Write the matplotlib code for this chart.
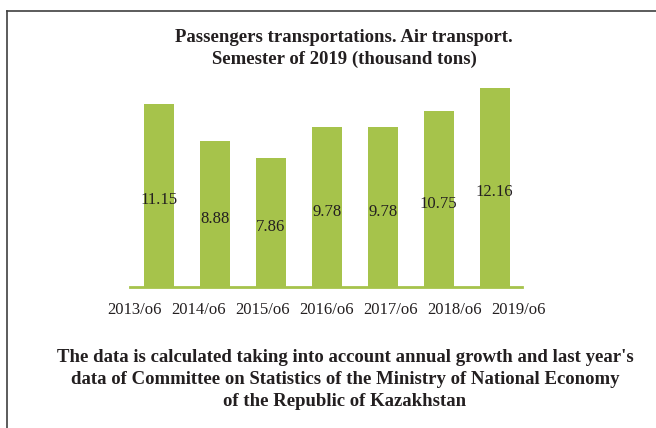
import matplotlib
matplotlib.use("Agg")
import matplotlib.pyplot as plt
from matplotlib.lines import Line2D

categories = ["2013/o6", "2014/o6", "2015/o6", "2016/o6", "2017/o6", "2018/o6", "2019/o6"]
values = [11.15, 8.88, 7.86, 9.78, 9.78, 10.75, 12.16]
value_labels = ["11.15", "8.88", "7.86", "9.78", "9.78", "10.75", "12.16"]

title = "Passengers transportations. Air transport.\nSemester of 2019 (thousand tons)"
footer = ("The data is calculated taking into account annual growth and last year's\n"
          "data of Committee on Statistics of the Ministry of National Economy\n"
          "of the Republic of Kazakhstan")

W, H = 656, 428
fig = plt.figure(figsize=(W / 100, H / 100), dpi=100)
fig.patch.set_facecolor("white")

green = "#A6C34B"
serif = ["Liberation Serif", "DejaVu Serif"]
txt = "#231F20"

# axes placement in pixels
x0, x1 = 130, 522
ybase = 287
px_per_unit = 16.4
ytop_val = 13.0
ax_h = ytop_val * px_per_unit
ax = fig.add_axes([x0 / W, (H - ybase) / H, (x1 - x0) / W, ax_h / H])

xs = list(range(len(categories)))
ax.bar(xs, values, width=0.54, color=green, zorder=2)
ax.set_xlim(-0.52, 6.49)
ax.set_ylim(0, ytop_val)

for x, v, lab in zip(xs, values, value_labels):
    ax.text(x, v / 2 - 0.3, lab, ha="center", va="center", fontsize=12,
            family=serif, color=txt, zorder=3)

# tick labels are spread a bit wider than the bars in the reference
mid = (len(categories) - 1) / 2
tick_pos = [mid + (x - mid) * 1.145 for x in xs]
ax.set_xticks(tick_pos)
ax.set_xticklabels(categories, fontsize=12, family=serif, color=txt)
ax.tick_params(axis="x", length=0, pad=11)
ax.set_yticks([])
for s in ["top", "right", "left"]:
    ax.spines[s].set_visible(False)
ax.spines["bottom"].set_color(green)
ax.spines["bottom"].set_linewidth(2)
ax.set_facecolor("none")

fig.text(344 / W, 1 - 48.5 / H, title, ha="center", va="center", fontsize=13.5,
         fontweight="bold", family=serif, color=txt, linespacing=1.42)
fig.text(345 / W, 1 - 379.5 / H, footer, ha="center", va="center", fontsize=13.5,
         fontweight="bold", family=serif, color=txt, linespacing=1.42)

# frame lines (left and top)
fig.add_artist(Line2D([7 / W, 7 / W], [0, 1 - 11 / H], transform=fig.transFigure,
                      color="#404040", lw=1.2))
fig.add_artist(Line2D([7 / W, 1], [1 - 11 / H, 1 - 11 / H], transform=fig.transFigure,
                      color="#404040", lw=1.2))

fig.savefig("out.png", dpi=100)
